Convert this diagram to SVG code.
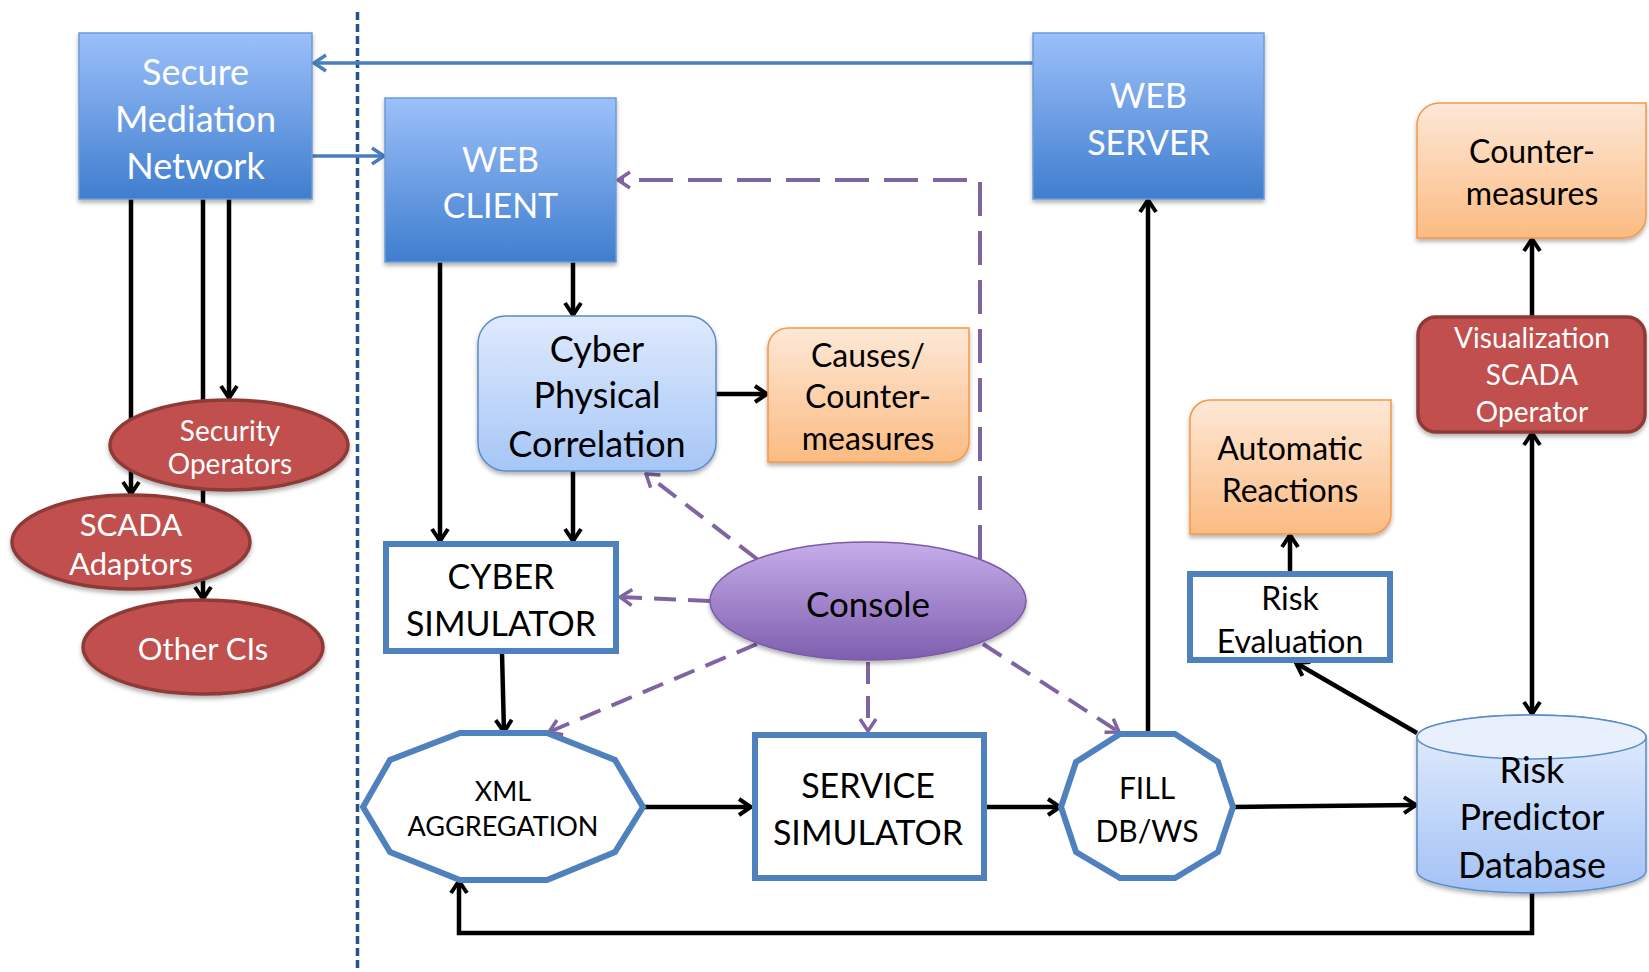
<svg xmlns="http://www.w3.org/2000/svg" width="1649" height="972" viewBox="0 0 1649 972">
<style>
.t{font-family:Lato,"Liberation Sans",sans-serif;text-anchor:middle}
.w{fill:#ffffff}
.k{fill:#000000}
.blue{fill:url(#gBlue);stroke:#6E9BD6;stroke-width:1.5}
.lite{fill:url(#gLite);stroke:#5C8BC8;stroke-width:1.5}
.org{fill:url(#gOrg);stroke:#F79646;stroke-width:1.5}
.red{fill:#C0504D;stroke:#8E3B39;stroke-width:3.5}
.box{fill:#ffffff;stroke:#4F81BD;stroke-width:6}
.cl{fill:none;stroke:#000;stroke-width:4.5}
.bl{fill:none;stroke:#4A7EBB;stroke-width:3.5}
.pl{fill:none;stroke:#8064A2;stroke-width:4;stroke-dasharray:22 12}
.pll{fill:none;stroke:#8064A2;stroke-width:4;stroke-dasharray:34 15}
.sh{filter:url(#shadow)}
</style>
<defs>
<linearGradient id="gBlue" x1="0" y1="0" x2="0" y2="1"><stop offset="0" stop-color="#9CC0FA"/><stop offset="1" stop-color="#3F7ECE"/></linearGradient>
<linearGradient id="gLite" x1="0" y1="0" x2="0" y2="1"><stop offset="0" stop-color="#DFEAFD"/><stop offset="1" stop-color="#A6C6F6"/></linearGradient>
<linearGradient id="gOrg" x1="0" y1="0" x2="0" y2="1"><stop offset="0" stop-color="#FDE8D7"/><stop offset="1" stop-color="#FBBB82"/></linearGradient>
<linearGradient id="gPur" x1="0" y1="0" x2="0" y2="1"><stop offset="0" stop-color="#C6ADEA"/><stop offset="1" stop-color="#7E5EAE"/></linearGradient>
<linearGradient id="gCyl" x1="0" y1="0" x2="0" y2="1"><stop offset="0" stop-color="#E6EEFD"/><stop offset="1" stop-color="#A2C2F6"/></linearGradient>
<filter id="shadow" x="-10%" y="-10%" width="120%" height="130%"><feDropShadow dx="0" dy="3" stdDeviation="2" flood-color="#000" flood-opacity="0.3"/></filter>
<marker id="ak" viewBox="0 0 16 20" refX="14" refY="10" markerWidth="16" markerHeight="20" markerUnits="userSpaceOnUse" orient="auto-start-reverse"><path d="M2,2 L14,10 L2,18" fill="none" stroke="#000" stroke-width="4"/></marker>
<marker id="ab" viewBox="0 0 16 20" refX="14" refY="10" markerWidth="16" markerHeight="20" markerUnits="userSpaceOnUse" orient="auto"><path d="M2,2 L14,10 L2,18" fill="none" stroke="#4A7EBB" stroke-width="3.5"/></marker>
<marker id="ap" viewBox="0 0 16 20" refX="14" refY="10" markerWidth="16" markerHeight="20" markerUnits="userSpaceOnUse" orient="auto"><path d="M2,2 L14,10 L2,18" fill="none" stroke="#8064A2" stroke-width="3.5"/></marker>
</defs>
<rect x="0" y="0" width="1649" height="972" fill="#ffffff"/>
<line x1="357.5" y1="12" x2="357.5" y2="972" stroke="#24528A" stroke-width="3.5" stroke-dasharray="8 4"/>
<g id="connectors">
<path class="bl" d="M1033,63 H314" marker-end="url(#ab)"/>
<path class="bl" d="M312,156 H384" marker-end="url(#ab)"/>
<path class="cl" d="M229,199 V398" marker-end="url(#ak)"/>
<path class="cl" d="M131,199 V494" marker-end="url(#ak)"/>
<path class="cl" d="M203,199 V599" marker-end="url(#ak)"/>
<path class="cl" d="M440,262 V541" marker-end="url(#ak)"/>
<path class="cl" d="M573,262 V315" marker-end="url(#ak)"/>
<path class="cl" d="M573,471 V541" marker-end="url(#ak)"/>
<path class="cl" d="M716,394 H767" marker-end="url(#ak)"/>
<path class="cl" d="M502,653 L504,732" marker-end="url(#ak)"/>
<path class="cl" d="M643,807 H751" marker-end="url(#ak)"/>
<path class="cl" d="M985,807 H1060" marker-end="url(#ak)"/>
<path class="cl" d="M1233,807 L1416,805" marker-end="url(#ak)"/>
<path class="cl" d="M1148,734 V200" marker-end="url(#ak)"/>
<path class="cl" d="M1417,733 L1296,663" marker-end="url(#ak)"/>
<path class="cl" d="M1290,572 V535" marker-end="url(#ak)"/>
<path class="cl" d="M1532,433 V714" marker-start="url(#ak)" marker-end="url(#ak)"/>
<path class="cl" d="M1532,316 V239" marker-end="url(#ak)"/>
<path class="cl" d="M1532,893 V933 H459 V881" marker-end="url(#ak)"/>
<path class="pll" d="M980,559 V180 H618" marker-end="url(#ap)"/>
<path class="pl" d="M757,559 L646,474" marker-end="url(#ap)"/>
<path class="pl" d="M710,601 L620,597" marker-end="url(#ap)"/>
<path class="pl" d="M757,644 L549,732" marker-end="url(#ap)"/>
<path class="pl" d="M868,662 V731" marker-end="url(#ap)"/>
<path class="pl" d="M983,644 L1119,732" marker-end="url(#ap)"/>
</g>
<g id="secure-mediation-network">
<rect class="blue sh" x="79" y="33" width="233" height="166"/>
<text class="t w" x="195.5" y="85" font-size="36">Secure</text>
<text class="t w" x="195.5" y="132" font-size="36">Mediation</text>
<text class="t w" x="195.5" y="179" font-size="36">Network</text>
</g>
<g id="web-client">
<rect class="blue sh" x="385" y="98" width="231" height="164"/>
<text class="t w" x="500.5" y="172" font-size="34">WEB</text>
<text class="t w" x="500.5" y="218" font-size="34">CLIENT</text>
</g>
<g id="web-server">
<rect class="blue sh" x="1033" y="33" width="231" height="166"/>
<text class="t w" x="1148.5" y="108" font-size="34">WEB</text>
<text class="t w" x="1148.5" y="155" font-size="34">SERVER</text>
</g>
<g id="security-operators">
<ellipse class="red sh" cx="229" cy="445" rx="119" ry="45"/>
<text class="t w" x="230" y="441" font-size="28">Security</text>
<text class="t w" x="230" y="474" font-size="28">Operators</text>
</g>
<g id="scada-adaptors">
<ellipse class="red sh" cx="131" cy="542" rx="119" ry="47"/>
<text class="t w" x="131" y="536" font-size="31">SCADA</text>
<text class="t w" x="131" y="575" font-size="31">Adaptors</text>
</g>
<g id="other-cis">
<ellipse class="red sh" cx="203" cy="647" rx="120" ry="47"/>
<text class="t w" x="203" y="660" font-size="31">Other CIs</text>
</g>
<g id="cyber-physical-correlation">
<rect class="lite sh" x="478" y="316" width="238" height="155" rx="28" ry="28"/>
<text class="t k" x="597" y="362" font-size="36">Cyber</text>
<text class="t k" x="597" y="408" font-size="36">Physical</text>
<text class="t k" x="597" y="457" font-size="36">Correlation</text>
</g>
<g id="causes-countermeasures">
<path class="org sh" d="M788,328 H969 V442 A20,20 0 0 1 949,462 H768 V348 A20,20 0 0 1 788,328 Z"/>
<text class="t k" x="868" y="367" font-size="32">Causes/</text>
<text class="t k" x="868" y="408" font-size="32">Counter-</text>
<text class="t k" x="868" y="450" font-size="32">measures</text>
</g>
<g id="cyber-simulator">
<rect class="box" x="386" y="544" width="230" height="107"/>
<text class="t k" x="501" y="589" font-size="34">CYBER</text>
<text class="t k" x="501" y="636" font-size="34">SIMULATOR</text>
</g>
<g id="console">
<ellipse cx="868" cy="601" rx="158" ry="59" fill="url(#gPur)" stroke="#7A5CA6" stroke-width="1.5" class="sh"/>
<text class="t k" x="868" y="617" font-size="35">Console</text>
</g>
<g id="xml-aggregation">
<polygon class="box" points="460,733 547,733 615,760 643,807 615,852 547,880 460,880 390,852 363,807 390,760"/>
<text class="t k" x="503" y="801" font-size="27">XML</text>
<text class="t k" x="503" y="836" font-size="27">AGGREGATION</text>
</g>
<g id="service-simulator">
<rect class="box" x="755" y="735" width="229" height="143"/>
<text class="t k" x="868" y="798" font-size="34">SERVICE</text>
<text class="t k" x="868" y="845" font-size="34">SIMULATOR</text>
</g>
<g id="fill-db-ws">
<polygon class="box" points="1120,734 1175,734 1218,762 1233,807 1218,852 1175,878 1120,878 1076,852 1061,807 1076,762"/>
<text class="t k" x="1147" y="799" font-size="30">FILL</text>
<text class="t k" x="1147" y="842" font-size="30">DB/WS</text>
</g>
<g id="risk-evaluation">
<rect class="box" x="1190" y="574" width="200" height="86"/>
<text class="t k" x="1290" y="610" font-size="32">Risk</text>
<text class="t k" x="1290" y="653" font-size="32">Evaluation</text>
</g>
<g id="automatic-reactions">
<path class="org sh" d="M1210,400 H1391 V514 A20,20 0 0 1 1371,534 H1190 V420 A20,20 0 0 1 1210,400 Z"/>
<text class="t k" x="1290" y="460" font-size="32">Automatic</text>
<text class="t k" x="1290" y="502" font-size="32">Reactions</text>
</g>
<g id="countermeasures">
<path class="org sh" d="M1439,103 H1646 V216 A22,22 0 0 1 1624,238 H1417 V125 A22,22 0 0 1 1439,103 Z"/>
<text class="t k" x="1532" y="163" font-size="32">Counter-</text>
<text class="t k" x="1532" y="205" font-size="32">measures</text>
</g>
<g id="visualization-scada-operator">
<rect class="red sh" x="1418" y="317" width="227" height="115" rx="18" ry="18" stroke-width="4"/>
<text class="t w" x="1532" y="348" font-size="28">Visualization</text>
<text class="t w" x="1532" y="385" font-size="28">SCADA</text>
<text class="t w" x="1532" y="422" font-size="28">Operator</text>
</g>
<g id="risk-predictor-database">
<path class="sh" d="M1417,737 V871 A114.5,22 0 0 0 1646,871 V737 A114.5,22 0 0 0 1417,737 Z" fill="url(#gCyl)" stroke="#5C8BC8" stroke-width="1.5"/>
<ellipse cx="1531.5" cy="737" rx="114.5" ry="22" fill="#E8F0FD" stroke="#5C8BC8" stroke-width="1.5"/>
<text class="t k" x="1532" y="783" font-size="36">Risk</text>
<text class="t k" x="1532" y="830" font-size="36">Predictor</text>
<text class="t k" x="1532" y="878" font-size="36">Database</text>
</g>
</svg>
